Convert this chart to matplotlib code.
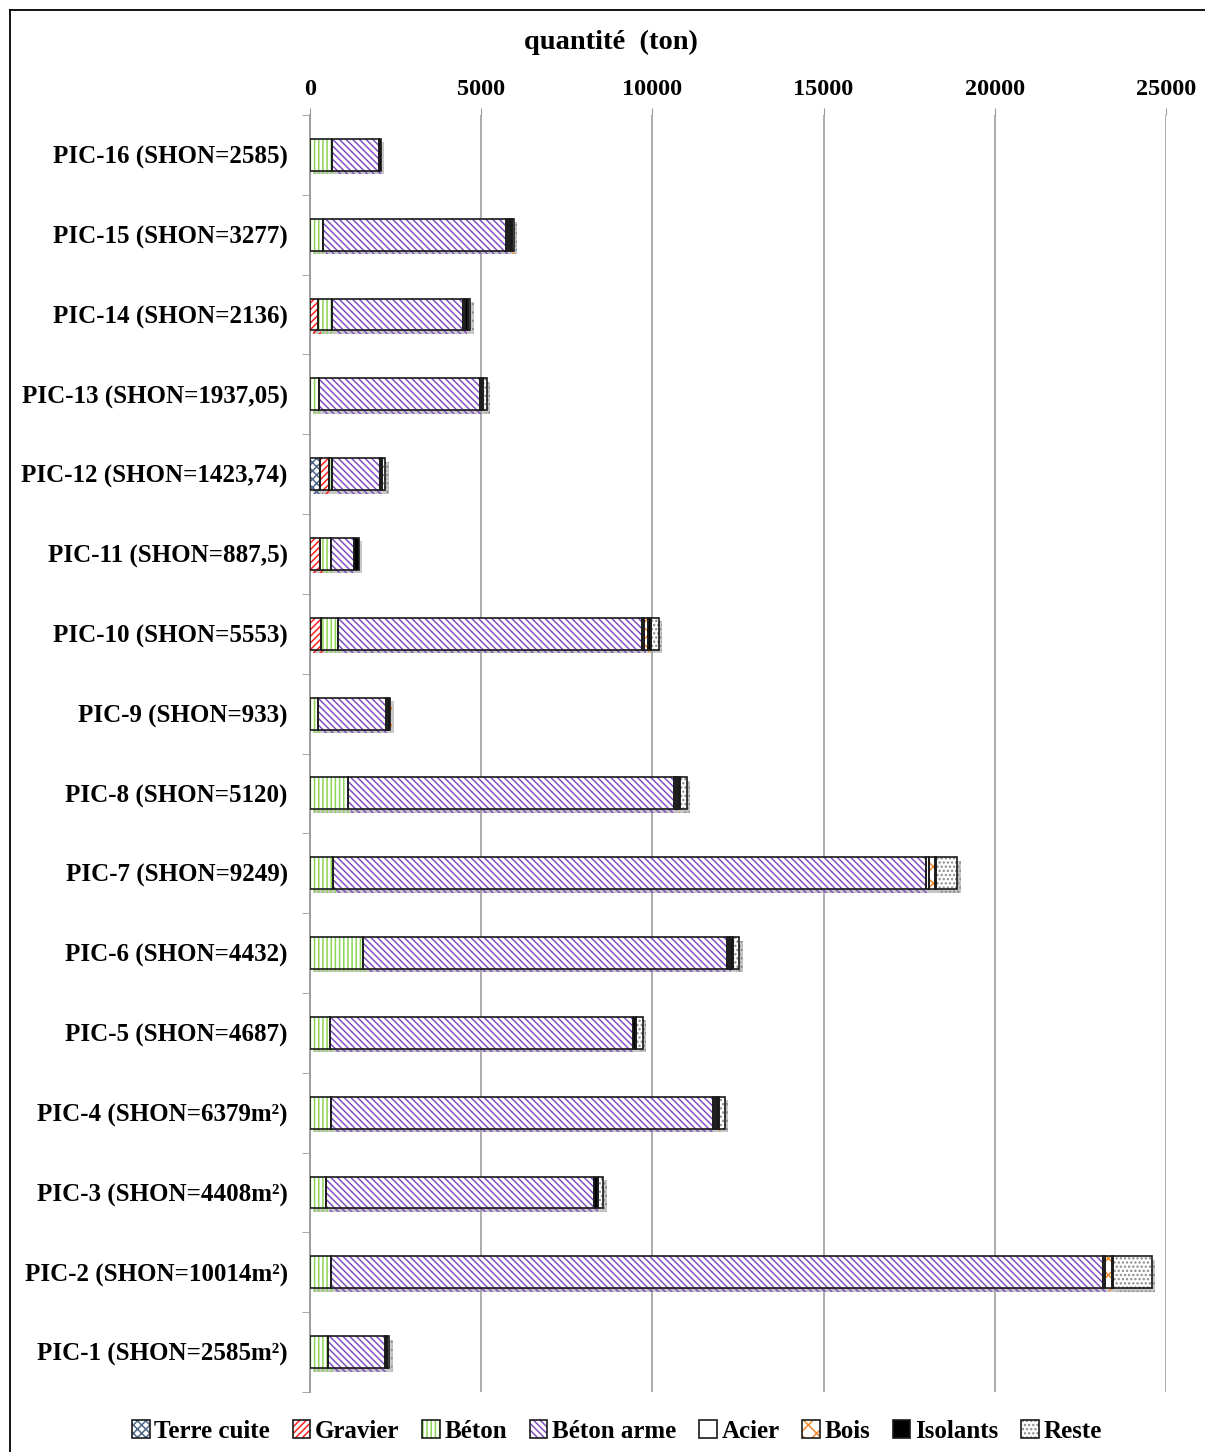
import matplotlib

matplotlib.use("Agg")
import matplotlib.pyplot as plt
import matplotlib.patheffects as pe
from matplotlib.patches import Patch
import numpy as np

# projects, listed top to bottom as displayed
projects = [
    "PIC-16 (SHON=2585)", "PIC-15 (SHON=3277)", "PIC-14 (SHON=2136)",
    "PIC-13 (SHON=1937,05)", "PIC-12 (SHON=1423,74)", "PIC-11 (SHON=887,5)",
    "PIC-10 (SHON=5553)", "PIC-9 (SHON=933)", "PIC-8 (SHON=5120)",
    "PIC-7 (SHON=9249)", "PIC-6 (SHON=4432)", "PIC-5 (SHON=4687)",
    "PIC-4 (SHON=6379m²)", "PIC-3 (SHON=4408m²)", "PIC-2 (SHON=10014m²)",
    "PIC-1 (SHON=2585m²)",
]

# quantities in tons, one list per material
terre_cuite = [0, 0, 0, 0, 290, 0, 0, 0, 0, 0, 0, 0, 0, 0, 0, 0]
gravier = [0, 0, 230, 0, 260, 290, 320, 0, 0, 0, 0, 0, 0, 0, 0, 0]
beton = [640, 380, 410, 260, 90, 320, 500, 230, 1110, 670, 1550, 580, 610, 470, 610, 530]
beton_arme = [1370, 5340, 3830, 4700, 1400, 670, 8880, 1990, 9520, 17320, 10630,
              8850, 11160, 7830, 22550, 1660]
acier = [0, 50, 60, 30, 0, 0, 60, 0, 60, 90, 60, 0, 60, 0, 60, 0]
bois = [0, 80, 0, 60, 0, 0, 100, 60, 60, 180, 70, 0, 60, 0, 200, 0]
isolants = [60, 40, 90, 0, 50, 150, 90, 60, 60, 30, 30, 90, 60, 120, 40, 60]
reste = [0, 60, 60, 120, 110, 0, 230, 0, 200, 610, 200, 200, 170, 150, 1120, 60]

x_ticks = [0, 5000, 10000, 15000, 20000, 25000]

materials = [
    ("Terre cuite", terre_cuite, dict(fc="white", hc="#50698a", hatch="xxxx")),
    ("Gravier", gravier, dict(fc="white", hc="#ff2020", hatch="/////")),
    ("Béton", beton, dict(fc="white", hc="#8ed455", hatch="||||")),
    ("Béton arme", beton_arme, dict(fc="white", hc="#8050c0", hatch="\\\\\\\\\\")),
    ("Acier", acier, dict(fc="white", hc="white", hatch=None)),
    ("Bois", bois, dict(fc="white", hc="#f08a30", hatch="xx")),
    ("Isolants", isolants, dict(fc="black", hc="black", hatch=None)),
    ("Reste", reste, dict(fc="white", hc="#8a8a8a", hatch="....")),
]

plt.rcParams.update({
    "font.family": "Liberation Serif",
    "font.weight": "bold",
    "hatch.linewidth": 1.1,
})

fig = plt.figure(figsize=(12.05, 14.52), dpi=100)
ax = fig.add_axes([310 / 1205, 1 - 1392 / 1452, 856 / 1205, 1277 / 1452])

y = np.arange(len(projects))
left = np.zeros(len(projects))
height = 0.4
shadow = [pe.SimplePatchShadow(offset=(2.5, -2.5), shadow_rgbFace="#9a9a9a", alpha=0.55), pe.Normal()]
handles = []
for name, values, st in materials:
    vals = np.asarray(values, dtype=float)
    bars = ax.barh(y, vals, left=left, height=height, color=st["fc"],
                   edgecolor=st["hc"], hatch=st["hatch"], linewidth=0, zorder=3)
    for b, v in zip(bars, vals):
        if v > 0:
            b.set_path_effects(shadow)
        else:
            b.set_visible(False)
    outline = ax.barh(y, vals, left=left, height=height, fill=False,
                      edgecolor="#1a1a1a", linewidth=1.2, zorder=4)
    for b, v in zip(outline, vals):
        if v <= 0:
            b.set_visible(False)
    left += vals
    h_fill = Patch(facecolor=st["fc"], edgecolor=st["hc"], hatch=st["hatch"], linewidth=0)
    h_edge = Patch(fill=False, edgecolor="#1a1a1a", linewidth=1.2)
    handles.append((h_fill, h_edge))

ax.set_xlim(0, 25000)
ax.set_ylim(len(projects) - 0.5, -0.5)
ax.set_xticks(x_ticks)
ax.xaxis.tick_top()
ax.tick_params(axis="x", top=True, bottom=False, length=5, color="#9a9a9a",
               labelsize=17.5, pad=6)
ax.set_yticks(y)
ax.set_yticklabels(projects, fontsize=18)
ax.set_yticks(np.arange(len(projects) + 1) - 0.5, minor=True)
ax.tick_params(axis="y", which="major", length=0, pad=16)
ax.tick_params(axis="y", which="minor", length=6, color="#9a9a9a")
ax.grid(axis="x", color="#a6a6a6", linewidth=1.3, zorder=0)
ax.set_axisbelow(True)
for side in ["top", "right", "bottom"]:
    ax.spines[side].set_visible(False)
ax.spines["left"].set_color("#9a9a9a")
ax.spines["left"].set_linewidth(1.3)

fig.text(611 / 1205, 1 - 42 / 1452, "quantité  (ton)", ha="center", va="center",
         fontsize=20.5, fontweight="bold")

fig.legend(handles, [m[0] for m in materials], loc="center",
           bbox_to_anchor=(617 / 1205, 1 - 1431 / 1452), ncol=8, frameon=False,
           fontsize=18, handlelength=0.7, handleheight=0.7, handletextpad=0.2,
           columnspacing=0.9)

# outer frame on the left and top edges
fig.add_artist(plt.Line2D([10 / 1205, 10 / 1205], [0, 1 - 10 / 1452],
                          transform=fig.transFigure, color="black", linewidth=1.3))
fig.add_artist(plt.Line2D([10 / 1205, 1], [1 - 10 / 1452, 1 - 10 / 1452],
                          transform=fig.transFigure, color="black", linewidth=1.3))

fig.savefig("out.png", dpi=100)
